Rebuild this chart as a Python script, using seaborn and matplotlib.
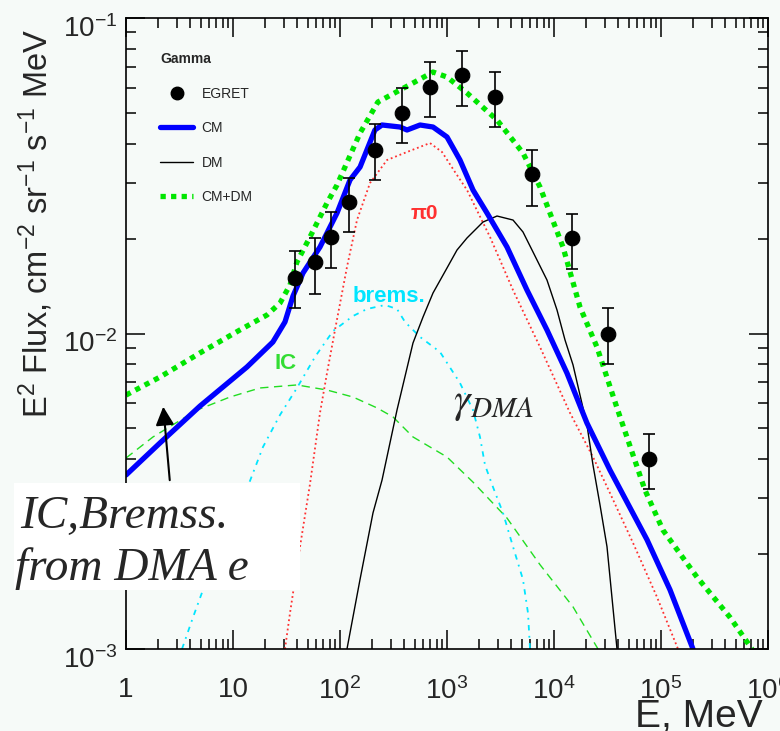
import matplotlib
matplotlib.use('Agg')
import matplotlib.pyplot as plt
import matplotlib.transforms as mtransforms
import seaborn as sns
from matplotlib.lines import Line2D
from matplotlib.patches import Rectangle
from matplotlib.ticker import FixedLocator, FixedFormatter, LogLocator, NullFormatter

# EGRET data points with error bars
egret_e = [38, 58, 82, 121, 212, 380, 693, 1380, 2810, 6230, 14700, 32000, 77300]
egret_f = [0.0150, 0.0169, 0.0202, 0.0261, 0.0382, 0.0500, 0.0604, 0.0659, 0.0562, 0.0321, 0.0201, 0.00996, 0.0040]
egret_lo = [0.01205, 0.01334, 0.01615, 0.0209, 0.0307, 0.0402, 0.0485, 0.0526, 0.0452, 0.0254, 0.0160, 0.0080, 0.00321]
egret_hi = [0.01824, 0.0201, 0.0243, 0.0311, 0.0462, 0.0600, 0.0726, 0.0786, 0.0675, 0.0382, 0.0239, 0.01205, 0.0048]

# CM (conventional model)
cm_e = [1, 2.08, 4.92, 13.5, 23.6, 30.6, 36.4, 45.1, 65.0, 93.8, 124, 154, 212, 247, 364, 423,
        560, 740, 1000, 1322, 1750, 2366, 3637, 5592, 8600, 13220, 20330, 33360, 74000, 121400, 199000]
cm_f = [0.00356, 0.00450, 0.00589, 0.00783, 0.00940, 0.01088, 0.01315, 0.01555, 0.01880, 0.02409,
        0.03066, 0.03371, 0.04416, 0.04580, 0.04513, 0.04416, 0.04580, 0.04513, 0.04196, 0.03547,
        0.02850, 0.02409, 0.01880, 0.01373, 0.01026, 0.00749, 0.00520, 0.00369, 0.00222, 0.00154, 0.00100]

# CM+DM
tot_e = [1, 2.08, 4.92, 11.6, 20.8, 27.5, 34.1, 39.6, 52.4, 75.6, 93.8, 154, 226, 364, 481, 740,
         1000, 1538, 2934, 5130, 7400, 12130, 17500, 25200, 38800, 70800, 104400, 216900, 441500, 708600]
tot_f = [0.00638, 0.00728, 0.00868, 0.01026, 0.01145, 0.01249, 0.01425, 0.01685, 0.02022, 0.02593,
         0.02956, 0.04320, 0.05417, 0.05912, 0.06223, 0.06742, 0.06501, 0.05784, 0.04750, 0.03733,
         0.02913, 0.01880, 0.01213, 0.00906, 0.00581, 0.00319, 0.00238, 0.00169, 0.00126, 0.00100]

# pi0 component
pi0_e = [30.6, 34.1, 42.3, 52.4, 65.0, 75.6, 89.8, 116.2, 144.2, 190.7, 275, 423, 693, 898, 1188,
         1538, 2524, 4139, 7400, 14120, 23140, 33360, 54730, 91800, 144200]
pi0_f = [0.00100, 0.00130, 0.00211, 0.00333, 0.00560, 0.00749, 0.01026, 0.01625, 0.02289, 0.02999,
         0.03547, 0.03761, 0.04015, 0.03761, 0.03249, 0.02850, 0.02022, 0.01373, 0.00906, 0.00560,
         0.00406, 0.00312, 0.00217, 0.00146, 0.00100]

# DM annihilation gammas
dm_e = [116.2, 153.8, 203.4, 247, 341, 481, 597, 740, 1000, 1240, 1538, 2170, 2934, 4139, 5130,
        6364, 8600, 10670, 12670, 15060, 17500, 20330, 23140, 26920, 31280, 38800]
dm_f = [0.00100, 0.00166, 0.00270, 0.00343, 0.00572, 0.00933, 0.01128, 0.01344, 0.01613, 0.01839,
        0.02008, 0.02256, 0.02357, 0.02289, 0.02098, 0.01813, 0.01477, 0.01187, 0.00954, 0.00795,
        0.00638, 0.00513, 0.00383, 0.00286, 0.00211, 0.00100]

# inverse Compton
ic_e = [1, 1.788, 4.609, 9.376, 17.88, 39.6, 75.6, 132.3, 221.7, 312.8, 481, 1000, 1750, 3637,
        7400, 15060, 25780]
ic_f = [0.00403, 0.00470, 0.00572, 0.00629, 0.00672, 0.00687, 0.00662, 0.00629, 0.00581, 0.00544,
        0.00470, 0.00406, 0.00338, 0.00260, 0.00185, 0.00136, 0.00100]

# bremsstrahlung
br_e = [3.337, 4.228, 5.244, 14.41, 19.07, 27.5, 39.6, 58.4, 86.0, 132.3, 178.8, 263.4, 341, 405,
        560, 860, 1322, 1750, 2034, 2265, 2691, 3337, 4139, 5130, 5715, 5967]
br_f = [0.00100, 0.00126, 0.00154, 0.00341, 0.00437, 0.00552, 0.00672, 0.00843, 0.01018, 0.01136,
        0.01196, 0.01231, 0.01196, 0.01088, 0.00975, 0.00874, 0.00697, 0.00572, 0.00470, 0.00383,
        0.00326, 0.00270, 0.00211, 0.00166, 0.00130, 0.00100]

x_ticks = [1, 10, 1e2, 1e3, 1e4, 1e5, 1e6]
x_labels = ['1', '10', '$10^2$', '$10^3$', '$10^4$', '$10^5$', '$10^6$']
y_ticks = [1e-3, 1e-2, 1e-1]
y_labels = ['$10^{-3}$', '$10^{-2}$', '$10^{-1}$']

sns.set_style('ticks')
plt.rcParams['font.family'] = ['Liberation Sans', 'DejaVu Sans']
plt.rcParams['mathtext.fontset'] = 'custom'
plt.rcParams['mathtext.rm'] = 'Liberation Sans'
plt.rcParams['mathtext.it'] = 'Liberation Sans:italic'
plt.rcParams['mathtext.bf'] = 'Liberation Sans:bold'

bg = '#f6faf8'
blue = '#0000ff'
green = '#00e600'
red = '#ff3030'
cyan = '#00e5ff'

fig = plt.figure(figsize=(7.8, 7.31), dpi=100, facecolor=bg)
ax = fig.add_axes([126 / 780, 82 / 731, 642 / 780, 631 / 731])
ax.set_facecolor(bg)
ax.set(xscale='log', yscale='log')

sns.lineplot(x=ic_e, y=ic_f, ax=ax, sort=False, estimator=None, color='#22dd22', lw=1.0,
             linestyle=(0, (6, 4)))
sns.lineplot(x=br_e, y=br_f, ax=ax, sort=False, estimator=None, color=cyan, lw=1.3,
             linestyle=(0, (3, 3, 1, 3)))
sns.lineplot(x=pi0_e, y=pi0_f, ax=ax, sort=False, estimator=None, color=red, lw=1.3,
             linestyle=(0, (1, 1.6)))
sns.lineplot(x=dm_e, y=dm_f, ax=ax, sort=False, estimator=None, color='black', lw=1.0)
sns.lineplot(x=tot_e, y=tot_f, ax=ax, sort=False, estimator=None, color=green, lw=3.8,
             linestyle=(0, (1, 1)))
sns.lineplot(x=cm_e, y=cm_f, ax=ax, sort=False, estimator=None, color=blue, lw=3.8)

yerr = [[f - lo for f, lo in zip(egret_f, egret_lo)], [hi - f for f, hi in zip(egret_f, egret_hi)]]
ax.errorbar(egret_e, egret_f, yerr=yerr, fmt='none', ecolor='black', elinewidth=1.2,
            capsize=4, capthick=1.2, zorder=5)
sns.scatterplot(x=egret_e, y=egret_f, ax=ax, color='black', s=110, edgecolor='black', zorder=6)

ax.set_xlim(1, 1e6)
ax.set_ylim(1e-3, 1e-1)
ax.xaxis.set_major_locator(FixedLocator(x_ticks))
ax.xaxis.set_major_formatter(FixedFormatter(x_labels))
ax.yaxis.set_major_locator(FixedLocator(y_ticks))
ax.yaxis.set_major_formatter(FixedFormatter(y_labels))
ax.xaxis.set_minor_locator(LogLocator(base=10, subs=range(2, 10), numticks=20))
ax.yaxis.set_minor_locator(LogLocator(base=10, subs=range(2, 10), numticks=20))
ax.xaxis.set_minor_formatter(NullFormatter())
ax.yaxis.set_minor_formatter(NullFormatter())
ax.tick_params(which='both', direction='in', top=True, right=True, width=1.1, color='black')
ax.tick_params(which='major', length=14)
ax.tick_params(which='minor', length=7)
ax.tick_params(axis='x', which='major', labelsize=20, pad=20)
ax.tick_params(axis='y', which='major', labelsize=20, pad=6)
for s in ax.spines.values():
    s.set_linewidth(1.2)
    s.set_color('black')

# y tick labels sit a little below their ticks in the original
shift = mtransforms.ScaledTranslation(0, -0.08, fig.dpi_scale_trans)
for lab in ax.get_yticklabels():
    lab.set_transform(lab.get_transform() + shift)

ax.set_xlabel('E, MeV', fontsize=28, ha='right', va='baseline')
ax.xaxis.set_label_coords(0.992, -0.124)
ax.set_ylabel(r'E$^2$ Flux, cm$^{-2}$ sr$^{-1}$ s$^{-1}$ MeV', fontsize=23.5)
ax.yaxis.set_label_coords(-0.110, 0.675)

# legend
handles = [
    Line2D([], [], ls='none', marker='o', color='black', markersize=9),
    Line2D([], [], color=blue, lw=3.8),
    Line2D([], [], color='black', lw=1.0),
    Line2D([], [], color=green, lw=3.8, linestyle=(0, (1, 1))),
]
ax.legend(handles, ['EGRET', 'CM', 'DM', 'CM+DM'], title='Gamma', loc='upper left',
          bbox_to_anchor=(0.053, 0.946), frameon=False, fontsize=10,
          title_fontproperties={'weight': 'bold', 'size': 10}, handlelength=2.4,
          handletextpad=0.6, labelspacing=1.48, borderpad=0, borderaxespad=0,
          alignment='left')

# component labels
ax.text(610, 0.024, 'π0', color=red, fontsize=15, fontweight='bold', ha='center', va='center')
ax.text(287, 0.0131, 'brems.', color=cyan, fontsize=16, fontweight='bold', ha='center', va='center')
ax.text(31.3, 0.00806, 'IC', color='#33dd33', fontsize=16, fontweight='bold', ha='center', va='center')
ax.text(1138, 0.0060, r'$\gamma_{DMA}$', math_fontfamily='stix', fontsize=30, ha='left', va='center')

# arrow and boxed note
ax.annotate('', xy=(2.218, 0.00598), xytext=(2.577, 0.00336),
            arrowprops=dict(arrowstyle='-|>', color='black', lw=1.5, mutation_scale=28))
fig.patches.append(Rectangle((14 / 780, (731 - 590) / 731), 286 / 780, 107 / 731,
                             transform=fig.transFigure, facecolor='white', edgecolor='none', zorder=5))
fig.text(20 / 780, (731 - 528) / 731, 'IC,Bremss.', family='Liberation Serif', style='italic',
         fontsize=34, va='baseline', ha='left', zorder=6)
fig.text(15 / 780, (731 - 580) / 731, 'from DMA e', family='Liberation Serif', style='italic',
         fontsize=34, va='baseline', ha='left', zorder=6)

fig.savefig('out.png', dpi=100, facecolor=bg)
